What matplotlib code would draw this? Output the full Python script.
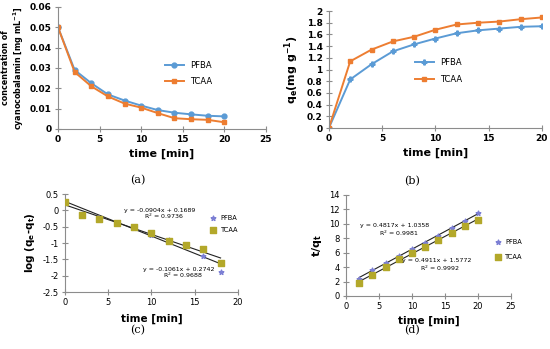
import numpy as np
import matplotlib.pyplot as plt

# (a) concentration vs time
t_a = [0, 2, 4, 6, 8, 10, 12, 14, 16, 18, 20]
conc_pfba = [0.050, 0.029, 0.0225, 0.017, 0.014, 0.0115, 0.0093, 0.008, 0.0072, 0.0065, 0.0062]
conc_tcaa = [0.050, 0.028, 0.021, 0.016, 0.0125, 0.0105, 0.0078, 0.0053, 0.0048, 0.0045, 0.0033]

# (b) qe vs time
qe_pfba = [0, 0.83, 1.09, 1.31, 1.43, 1.53, 1.62, 1.67, 1.70, 1.73, 1.74]
qe_tcaa = [0, 1.14, 1.34, 1.48, 1.56, 1.68, 1.77, 1.80, 1.82, 1.86, 1.89]

# (c) pseudo-first order
t_c = [0, 2, 4, 6, 8, 10, 12, 14, 16, 18]
log_pfba = [0.24, -0.10, -0.22, -0.38, -0.53, -0.75, -0.92, -1.10, -1.40, -1.90]
log_tcaa = [0.27, -0.15, -0.28, -0.40, -0.50, -0.70, -0.95, -1.07, -1.17, -1.60]
fit_c_pfba = (-0.1061, 0.2742)
fit_c_tcaa = (-0.0904, 0.1689)

# (d) pseudo-second order
t_d = [2, 4, 6, 8, 10, 12, 14, 16, 18, 20]
tq_pfba = [2.4, 3.65, 4.55, 5.6, 6.5, 7.4, 8.35, 9.4, 10.4, 11.45]
tq_tcaa = [1.75, 2.95, 4.05, 5.1, 5.9, 6.75, 7.75, 8.75, 9.65, 10.6]
fit_d_pfba = (0.4911, 1.5772)
fit_d_tcaa = (0.4817, 1.0358)

BLUE = '#5B9BD5'
ORANGE = '#ED7D31'
STAR = '#7C7FD4'
OLIVE = '#B3A82A'
AX = '#8C8C8C'


def style_axes(ax, bold):
    for s in ['top', 'right']:
        ax.spines[s].set_visible(False)
    for s in ['left', 'bottom']:
        ax.spines[s].set_color(AX)
        ax.spines[s].set_linewidth(0.8)
    ax.tick_params(direction='inout', length=5, width=0.8, color=AX,
                   labelsize=6.5, pad=2)
    if bold:
        for lab in ax.get_xticklabels() + ax.get_yticklabels():
            lab.set_fontweight('bold')


fig = plt.figure(figsize=(5.5, 3.49), dpi=100)

# (a)
ax1 = fig.add_axes([0.1055, 0.6304, 0.378, 0.3496])
ax1.plot(t_a, conc_pfba, '-o', color=BLUE, ms=3.5, lw=1.4, label='PFBA')
ax1.plot(t_a, conc_tcaa, '-s', color=ORANGE, ms=3.5, lw=1.4, label='TCAA')
ax1.set_xlim(0, 25)
ax1.set_ylim(0, 0.06)
ax1.set_xticks(range(0, 26, 5))
ax1.set_yticks(np.arange(0, 0.061, 0.01))
ax1.set_yticklabels(['0', '0.01', '0.02', '0.03', '0.04', '0.05', '0.06'])
style_axes(ax1, True)
ax1.set_xlabel('time [min]', fontsize=8, fontweight='bold', labelpad=3)
ax1.set_ylabel('concentration of\ncyanocobalamin [mg mL$^{\\mathbf{-1}}$]',
               fontsize=5.8, fontweight='bold', linespacing=1.1)
ax1.yaxis.set_label_coords(-0.155, 0.5)
ax1.legend(loc='upper left', bbox_to_anchor=(0.48, 0.62), frameon=False,
           fontsize=6, handlelength=2.2, labelspacing=0.9)

# (b)
ax2 = fig.add_axes([0.598, 0.6332, 0.3873, 0.3352])
ax2.plot(t_a, qe_pfba, '-P', color=BLUE, ms=3.5, lw=1.4, label='PFBA')
ax2.plot(t_a, qe_tcaa, '-s', color=ORANGE, ms=3.5, lw=1.4, label='TCAA')
ax2.set_xlim(0, 20)
ax2.set_ylim(0, 2)
ax2.set_xticks(range(0, 21, 5))
ax2.set_yticks(np.arange(0, 2.01, 0.2))
ax2.set_yticklabels(['0', '0.2', '0.4', '0.6', '0.8', '1', '1.2', '1.4',
                     '1.6', '1.8', '2'])
style_axes(ax2, True)
ax2.set_xlabel('time [min]', fontsize=8, fontweight='bold', labelpad=3)
ax2.set_ylabel('q$_\\mathbf{e}$(mg g$^{\\mathbf{-1}}$)', fontsize=8,
               fontweight='bold', labelpad=4)
ax2.legend(loc='upper left', bbox_to_anchor=(0.37, 0.66), frameon=False,
           fontsize=6, handlelength=2.2, labelspacing=0.9)

# (c)
ax3 = fig.add_axes([0.118, 0.1633, 0.3145, 0.2808])
ax3.scatter(t_c, log_pfba, marker='*', s=12, color=STAR, label='PFBA', zorder=3)
ax3.scatter(t_c, log_tcaa, marker='s', s=18, color=OLIVE, label='TCAA', zorder=3)
xc = np.array([t_c[0], t_c[-1]])
for m, b in [fit_c_pfba, fit_c_tcaa]:
    ax3.plot(xc, m * xc + b, color='#222222', lw=0.8, zorder=2)
ax3.set_xlim(0, 20)
ax3.set_ylim(-2.5, 0.5)
ax3.set_xticks(range(0, 21, 5))
ax3.set_yticks(np.arange(-2.5, 0.51, 0.5))
ax3.set_yticklabels(['-2.5', '-2', '-1.5', '-1', '-0.5', '0', '0.5'])
style_axes(ax3, False)
ax3.tick_params(labelsize=6)
ax3.set_xlabel('time [min]', fontsize=7.5, fontweight='bold', labelpad=5)
ax3.set_ylabel('log (q$_\\mathbf{e}$-q$_\\mathbf{t}$)', fontsize=7.5,
               fontweight='bold', labelpad=4)
ax3.text(11.0, -0.05, 'y = -0.0904x + 0.1689', fontsize=4.5, ha='center')
ax3.text(11.5, -0.27, 'R$^2$ = 0.9736', fontsize=4.5, ha='center')
ax3.text(13.2, -1.85, 'y = -0.1061x + 0.2742', fontsize=4.5, ha='center')
ax3.text(13.6, -2.08, 'R$^2$ = 0.9688', fontsize=4.5, ha='center')
ax3.legend(loc='upper left', bbox_to_anchor=(0.8, 0.82), frameon=False,
           fontsize=4.8, handletextpad=0.1, labelspacing=0.9, borderpad=0)

# (d)
ax4 = fig.add_axes([0.629, 0.1519, 0.3, 0.2894])
ax4.scatter(t_d, tq_pfba, marker='*', s=12, color=STAR, label='PFBA', zorder=3)
ax4.scatter(t_d, tq_tcaa, marker='s', s=18, color=OLIVE, label='TCAA', zorder=3)
xd = np.array([t_d[0], t_d[-1]])
for m, b in [fit_d_pfba, fit_d_tcaa]:
    ax4.plot(xd, m * xd + b, color='#222222', lw=0.8, zorder=2)
ax4.set_xlim(0, 25)
ax4.set_ylim(0, 14)
ax4.set_xticks(range(0, 26, 5))
ax4.set_yticks(range(0, 15, 2))
style_axes(ax4, False)
ax4.tick_params(labelsize=6)
ax4.set_xlabel('time [min]', fontsize=7.5, fontweight='bold', labelpad=3)
ax4.set_ylabel('t/q$_\\mathbf{t}$', fontsize=8, fontweight='bold', labelpad=4)
ax4.text(7.4, 9.55, 'y = 0.4817x + 1.0358', fontsize=4.5, ha='center')
ax4.text(8.0, 8.3, 'R$^2$ = 0.9981', fontsize=4.5, ha='center')
ax4.text(13.8, 4.7, 'y = 0.4911x + 1.5772', fontsize=4.5, ha='center')
ax4.text(14.3, 3.45, 'R$^2$ = 0.9992', fontsize=4.5, ha='center')
ax4.legend(loc='upper left', bbox_to_anchor=(0.86, 0.6), frameon=False,
           fontsize=4.8, handletextpad=0.1, labelspacing=1.4, borderpad=0)

# panel letters
for x, y, s in [(138, 180, '(a)'), (412, 181, '(b)'),
                (138, 330, '(c)'), (412, 330, '(d)')]:
    fig.text(x / 550, 1 - y / 349, s, fontsize=8, family='DejaVu Serif',
             ha='center', va='center')

fig.savefig('out.png', dpi=100)
